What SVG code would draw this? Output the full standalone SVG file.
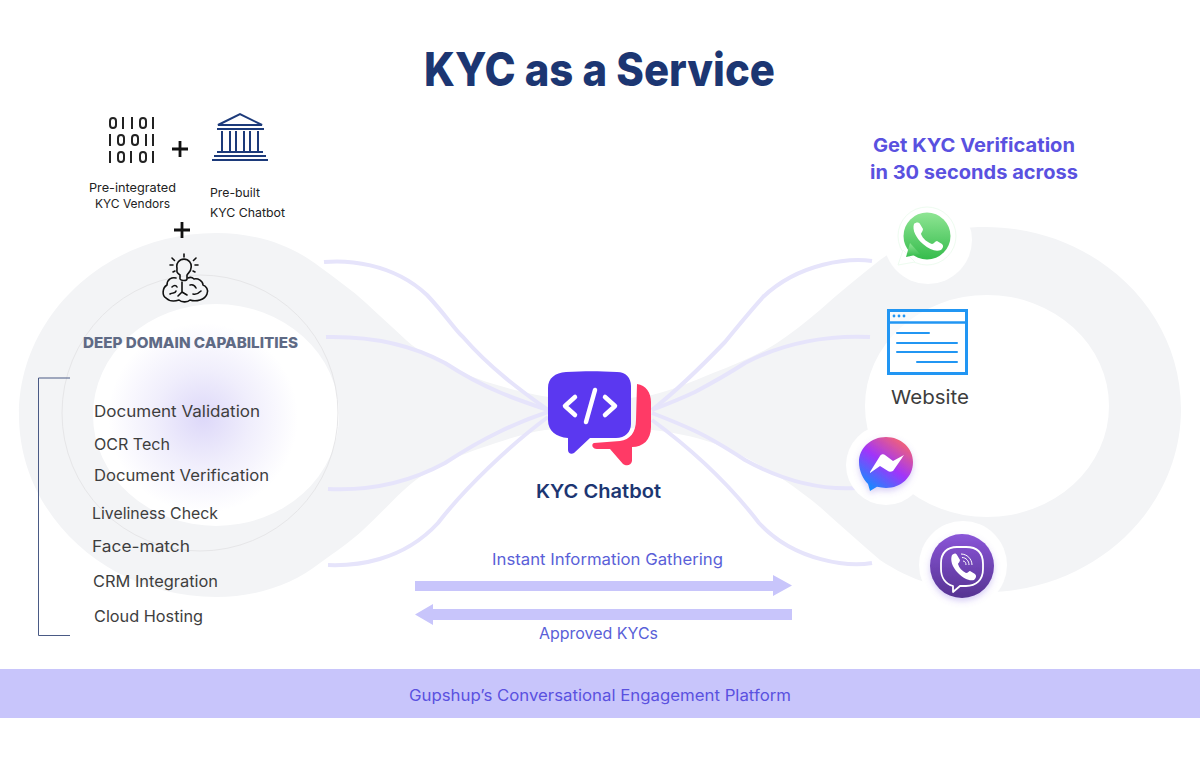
<svg xmlns="http://www.w3.org/2000/svg" width="1200" height="770" viewBox="0 0 1200 770">
<style>
text{font-family:"Inter","Noto Sans","Liberation Sans",sans-serif}
.li{font-size:16px;fill:#3e3e3e}
.sm{font-size:12px;fill:#222}
.vi{font-size:16px;fill:#5a5fd8}
.hd{font-size:19px;font-weight:700;fill:#5a51e0}
.c{fill:none;stroke:#e6e4fb;stroke-width:4;stroke-linecap:butt}
.bin{fill:none;stroke:#222;stroke-width:2}
.bk{fill:none;stroke:#1c3a7a;stroke-width:2}
.br{fill:none;stroke:#111;stroke-width:1.6;stroke-linecap:round;stroke-linejoin:round}
.w{fill:#2196f3}
.wl{stroke:#2196f3;stroke-width:2;stroke-linecap:round}
</style>
<defs>
<radialGradient id="glow"><stop offset="0" stop-color="#ddd8f9"/><stop offset="0.5" stop-color="#f0eefc"/><stop offset="1" stop-color="#fff"/></radialGradient>
<linearGradient id="wa" x1="0" y1="0" x2="0" y2="1"><stop offset="0" stop-color="#8fe594"/><stop offset="1" stop-color="#35bc4c"/></linearGradient>
<linearGradient id="ms" x1="0.85" y1="0" x2="0.15" y2="1"><stop offset="0" stop-color="#ff6a62"/><stop offset="0.5" stop-color="#a034fa"/><stop offset="1" stop-color="#0695ff"/></linearGradient>
<linearGradient id="vb" x1="0" y1="0" x2="0" y2="1"><stop offset="0" stop-color="#8a55d8"/><stop offset="1" stop-color="#563392"/></linearGradient>
<filter id="sh" x="-30%" y="-30%" width="160%" height="160%"><feDropShadow dx="0" dy="3" stdDeviation="3" flood-color="#7a5ae0" flood-opacity="0.3"/></filter>
</defs>
<rect width="1200" height="770" fill="#fff"/>

<g id="background">
<path fill="#f3f4f6" fill-rule="evenodd" d="M600 402C570 402 510 393 463 373C440 362 420 353 406 340C392 327 380 316 366 303C352 290 336 279 320 267C292 245 256 233 216 233C107 233 19 315 19 415C19 515 107 597 216 597C256 597 292 585 320 563C335 552 349 543 363 530C385 510 400 491 420 477C440 464 460 455 481 448C505 440 525 433 545 430L600 425L652 430C672 432 692 436 713 443C738 453 762 465 784 480C797 489 808 497 820 507C840 525 860 543 880 560C910 580 945 592 985 592C1093 592 1181 510 1181 409C1181 308 1093 227 985 227C945 227 910 238 880 260C860 276 840 292 820 310C806 322 792 333 777 343C758 355 735 365 713 373C692 382 672 390 652 395Z M93 415a123 111 0 1 0 246 0a123 111 0 1 0-246 0Z M865 406a122 111 0 1 0 244 0a122 111 0 1 0-244 0Z"/>
<ellipse cx="203" cy="418" rx="95" ry="95" fill="url(#glow)"/>
<circle cx="200" cy="413" r="138" fill="none" stroke="#e6e6e8" stroke-width="1"/>
</g>

<g id="connectors">
<path class="c" d="M324 262C345 260 392 262 427 295C445 314 455 330 463 337C490 368 520 390 548 410"/>
<path class="c" d="M326 337C370 336 410 344 445 363C465 376 480 384 499 392C515 399 530 404 548 410"/>
<path class="c" d="M328 489C370 491 410 482 445 463C465 450 480 441 499 432C515 424 530 418 548 412"/>
<path class="c" d="M328 565C355 566 402 562 438 523C465 488 510 445 548 417"/>
<path class="c" d="M872 261C850 258 800 262 763 297C745 317 735 330 725 342C700 368 680 388 652 410"/>
<path class="c" d="M870 337C830 335 785 342 745 363C725 376 710 384 695 392C680 399 665 405 652 410"/>
<path class="c" d="M856 488C820 490 785 482 745 460C725 447 710 438 695 431C680 424 665 418 652 413"/>
<path class="c" d="M872 563C850 567 795 562 759 523C730 485 690 448 652 420"/>
<path fill="#c8c5fb" d="M415 581H773V575L792 585.500L773 596V591H415Z"/>
<path fill="#c8c5fb" d="M792 609H433V604L415 614.500L433 625V620H792Z"/>
</g>

<text x="424" y="86" font-size="46" font-weight="800" fill="#1c3672" textLength="351" lengthAdjust="spacingAndGlyphs">KYC as a Service</text>

<g id="node-vendors">
<path class="bin" d="M123 117v12M132 117v12M153 117v12M110 134v12M146 134v12M153 134v12M110 151v12M131 151v12M153 151v12"/>
<rect class="bin" x="110" y="118" width="6" height="10" rx="3"/><rect class="bin" x="140" y="118" width="6" height="10" rx="3"/>
<rect class="bin" x="118" y="135" width="6" height="10" rx="3"/><rect class="bin" x="132" y="135" width="6" height="10" rx="3"/>
<rect class="bin" x="118" y="152" width="6" height="10" rx="3"/><rect class="bin" x="140" y="152" width="6" height="10" rx="3"/>
<text class="sm" x="89" y="192" textLength="87" lengthAdjust="spacingAndGlyphs">Pre-integrated</text>
<text class="sm" x="95" y="208" textLength="75" lengthAdjust="spacingAndGlyphs">KYC Vendors</text>
</g>
<path id="plus-1" d="M172 149H188M180 141V157" stroke="#111" stroke-width="2.800" fill="none"/>
<g id="node-chatbot-prebuilt">
<path class="bk" stroke-width="2.400" d="M218 125L240 114L262 125Z"/>
<path class="bk" stroke-width="2.400" d="M217 129H264M222 131V152M230 131V152M236 131V152M244 131V152M250 131V152M258 131V152M217 152H263M214 156H266M212 160H268"/>
<text class="sm" x="210" y="197" textLength="50" lengthAdjust="spacingAndGlyphs">Pre-built</text>
<text class="sm" x="210" y="217" textLength="75" lengthAdjust="spacingAndGlyphs">KYC Chatbot</text>
</g>
<path id="plus-2" d="M174 230H190M182 222V238" stroke="#111" stroke-width="2.800" fill="none"/>
<g id="node-domain-icon">
<path class="br" d="M180 279V275C176 272 177 272 177 268A7.200 7.200 0 1 1 191 268C191 272 188 273 187 275V279C187 281 181 281 180 279ZM184 254V257M172 258L174.500 260.500M196 258L193.500 260.500M170 265H173M195 265H198M173 272L175 271M195 272L193 271"/>
<path class="br" stroke-width="1.800" d="M176 278C172 277 167 279 167 285C162 288 162 296 166 298C170 302 176 301 179 300C182 303 188 302 190 300C196 302 205 300 207 294C209 290 206 286 203 285C203 281 198 278 194 279C192 277 190 277 188 278"/>
<path class="br" stroke-width="1.200" d="M172 287C174 285 176 285 177 287M170 294C173 292 175 294 176 291M182 282V292M182 292L178 296M182 292L187 295M190 285C193 284 195 286 196 288M193 294C197 295 199 293 201 291"/>
</g>

<g id="node-capabilities">
<text x="83" y="348" font-size="15" font-weight="800" fill="#5f6a85" textLength="215" lengthAdjust="spacingAndGlyphs">DEEP DOMAIN CAPABILITIES</text>
<text class="li" x="94" y="417" textLength="166" lengthAdjust="spacingAndGlyphs">Document Validation</text>
<text class="li" x="94" y="450" textLength="76" lengthAdjust="spacingAndGlyphs">OCR Tech</text>
<text class="li" x="94" y="481" textLength="175" lengthAdjust="spacingAndGlyphs">Document Verification</text>
<text class="li" x="92" y="519" textLength="126" lengthAdjust="spacingAndGlyphs">Liveliness Check</text>
<text class="li" x="92" y="552" textLength="98" lengthAdjust="spacingAndGlyphs">Face-match</text>
<text class="li" x="93" y="587" textLength="125" lengthAdjust="spacingAndGlyphs">CRM Integration</text>
<text class="li" x="94" y="622" textLength="109" lengthAdjust="spacingAndGlyphs">Cloud Hosting</text>
<path d="M70 378H38.500V635.500H70" fill="none" stroke="#4a5a85" stroke-width="1"/>
</g>

<g id="node-kyc-chatbot">
<path fill="#ff3a66" d="M637 384C646 385 651 393 651 402V427C651 440 643 447 632 447V461C631 466 626 466 623 464L610 449H597C592 449 591 444 594 443L620 441C630 440 636 432 636 420Z"/>
<path fill="#5b38f0" d="M566 372C585 371 598 371 617 372C626 372 631 378 631 386V424C631 432 625 438 616 438H590L574 453C571 455 568 453 568 450V438C556 437 548 431 548 420V388C548 378 555 373 566 372Z"/>
<path fill="none" stroke="#fff" stroke-width="4.500" stroke-linecap="round" stroke-linejoin="round" d="M575 397L565 406L575 415M605 397L615 406L605 415"/>
<path fill="none" stroke="#fff" stroke-width="4.500" stroke-linecap="round" d="M595 390L586 422"/>
<text x="536" y="498" font-size="19" font-weight="600" fill="#1c3672" textLength="125" lengthAdjust="spacingAndGlyphs">KYC Chatbot</text>
</g>

<text class="vi" x="492" y="565" textLength="231" lengthAdjust="spacingAndGlyphs">Instant Information Gathering</text>
<text class="vi" x="539" y="639" textLength="119" lengthAdjust="spacingAndGlyphs">Approved KYCs</text>

<text class="hd" x="873" y="152" textLength="202" lengthAdjust="spacingAndGlyphs">Get KYC Verification</text>
<text class="hd" x="870" y="179" textLength="208" lengthAdjust="spacingAndGlyphs">in 30 seconds across</text>

<g id="node-whatsapp">
<circle cx="928" cy="240" r="44" fill="#fff"/>
<circle cx="927" cy="236" r="29" fill="#fff" stroke="#eefcf0" stroke-width="1"/>
<path fill="#fff" stroke="#eefcf0" stroke-width="1" d="M898 265L903 250L915 262Z"/>
<circle cx="927" cy="236" r="23.500" fill="url(#wa)"/>
<path fill="url(#wa)" d="M906 257L910 243L920 254Z"/>
<path fill="#fff" d="M914 224C916 222 919 222 920 224L923 229C923 231 921 233 921 234C923 239 927 242 932 244C934 244 935 241 937 241L942 244C944 246 943 248 941 250C936 252 930 250 923 244C916 238 912 230 914 224Z"/>
</g>

<g id="node-website">
<rect x="888.500" y="310.500" width="78" height="63" fill="#fff" fill-opacity="0.5" stroke="#2196f3" stroke-width="3"/>
<path d="M888 322.500H967" stroke="#2196f3" stroke-width="2.500"/>
<circle class="w" cx="894" cy="316" r="1.400"/><circle class="w" cx="899" cy="316" r="1.400"/><circle class="w" cx="904" cy="316" r="1.400"/>
<path class="wl" d="M897 333H929M897 343H957M897 352H957M917 362H957"/>
<text x="891" y="404" font-size="19" fill="#3d3d3d" textLength="78" lengthAdjust="spacingAndGlyphs">Website</text>
</g>

<g id="node-messenger">
<circle cx="886" cy="465" r="40" fill="#fff"/>
<path fill="url(#ms)" filter="url(#sh)" d="M886 437C901 437 913 448 913 462C913 477 901 488 886 488C883 488 880 487.500 877 486.800L870 491L868 484C863 479 859 471 859 462C859 448 871 437 886 437Z"/>
<path fill="#fff" d="M870 472L880 456C881 454 884 454 885 455L893 461L904 455C905 454 903 456 902 458L893 471C891 472 889 472 888 471L880 466L870 473Z"/>
</g>

<g id="node-viber">
<circle cx="963" cy="565" r="44" fill="#fff"/>
<circle cx="962" cy="566" r="32" fill="url(#vb)" filter="url(#sh)"/>
<path fill="none" stroke="#fff" stroke-width="1.800" stroke-linejoin="round" d="M957 547H966C977 547 983 553 983 564V569C983 580 976 586 966 586H960L953 592V586C946 584 941 578 941 569V563C941 553 947 547 957 547Z"/>
<path fill="#fff" d="M952 555C954 553 956 553 957 555L960 560C960 562 958 563 958 564C959 568 962 571 966 573C968 573 969 571 970 571L975 574C977 576 976 578 974 580C969 581 964 579 958 573C952 567 950 560 952 555Z"/>
<path fill="none" stroke="#fff" stroke-width="1" d="M961 554C967 554 972 559 972 565M962 557.500C966 557.500 969 561 969 565M963 561C965 561 966 563 966 565"/>
</g>

<g id="node-platform">
<rect x="0" y="669" width="1200" height="49" fill="#c8c5fb"/>
<text x="409" y="701" font-size="15.500" fill="#5a51e0" textLength="382" lengthAdjust="spacingAndGlyphs">Gupshup’s Conversational Engagement Platform</text>
</g>
</svg>
